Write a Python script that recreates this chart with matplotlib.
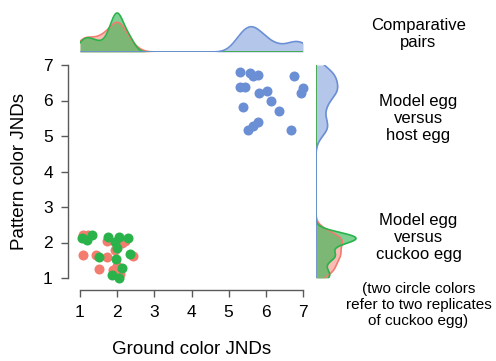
import numpy as np
import matplotlib
matplotlib.use("Agg")
import matplotlib.pyplot as plt

plt.rcParams["font.family"] = ["Liberation Sans", "DejaVu Sans"]

# Model egg vs host egg (ground JND, pattern JND)
host_ground = [5.30, 5.57, 5.65, 5.78, 6.77, 5.30, 5.44, 5.82, 6.02,
               6.99, 6.95, 6.13, 5.39, 6.35, 5.80, 5.66, 5.53, 6.68]
host_pattern = [6.81, 6.78, 6.69, 6.72, 6.69, 6.39, 6.37, 6.22, 6.27,
                6.34, 6.20, 5.99, 5.83, 5.70, 5.39, 5.28, 5.17, 5.17]

# Model egg vs cuckoo egg, replicate 1 (red)
cuckoo1_ground = [1.07, 1.43, 1.72, 2.42, 1.52, 1.90, 1.72, 2.12, 1.09,
                  1.21, 2.00, 2.05, 1.95, 2.20, 2.08]
cuckoo1_pattern = [1.65, 1.65, 1.58, 1.63, 1.25, 1.23, 2.05, 1.98, 2.21,
                   2.21, 1.34, 2.10, 1.80, 2.05, 1.10]

# Model egg vs cuckoo egg, replicate 2 (green)
cuckoo2_ground = [1.05, 1.18, 1.33, 1.76, 1.94, 2.06, 2.30, 1.99, 1.52,
                  1.96, 2.35, 2.12, 1.85, 2.06]
cuckoo2_pattern = [2.12, 2.07, 2.21, 2.15, 2.02, 2.16, 2.14, 1.84, 1.60,
                   1.54, 1.68, 1.27, 1.08, 0.99]

ticks = [1, 2, 3, 4, 5, 6, 7]

BLUE = "#6b8fd4"
RED = "#f47c6f"
GREEN = "#2ab34b"


def kde(samples, grid, bw):
    samples = np.asarray(samples)
    z = (grid[:, None] - samples[None, :]) / bw
    return np.exp(-0.5 * z**2).sum(axis=1) / (len(samples) * bw * np.sqrt(2 * np.pi))


W, H = 496, 361
fig = plt.figure(figsize=(W / 100, H / 100), dpi=100)


def box(left, top, right, bottom):
    return [left / W, 1 - bottom / H, (right - left) / W, (bottom - top) / H]


ax = fig.add_axes(box(80, 65, 303, 278))
ax_top = fig.add_axes(box(80, 8, 303, 52))
ax_right = fig.add_axes(box(316, 65, 362, 278))

# scatter
ax.scatter(host_ground, host_pattern, s=52, color=BLUE, lw=0, clip_on=False, zorder=3)
ax.scatter(cuckoo1_ground, cuckoo1_pattern, s=52, color=RED, lw=0, clip_on=False, zorder=3)
ax.scatter(cuckoo2_ground, cuckoo2_pattern, s=52, color=GREEN, lw=0, clip_on=False, zorder=4)
ax.set_xlim(1, 7)
ax.set_ylim(1, 7)
ax.set_xticks(ticks)
ax.set_yticks(ticks)
for side in ("top", "right"):
    ax.spines[side].set_visible(False)
for side in ("left", "bottom"):
    ax.spines[side].set_position(("outward", 8.6))
    ax.spines[side].set_color("#5a5a5a")
    ax.spines[side].set_linewidth(1.0)
ax.tick_params(direction="out", length=5, width=1.0, color="#5a5a5a",
               labelsize=12.5, pad=6)

fig.text(191.5 / W, 1 - 349 / H, "Ground color JNDs", ha="center", va="center", fontsize=13.5)
fig.text(20 / W, 1 - 171.5 / H, "Pattern color JNDs", ha="center", va="center",
         rotation=90, fontsize=13.5)

# marginal densities
grid = np.linspace(1, 7, 400)
groups = [
    (cuckoo1_ground, cuckoo1_pattern, RED, 0.5, 0.2),
    (cuckoo2_ground, cuckoo2_pattern, GREEN, 0.6, 0.15),
    (host_ground, host_pattern, BLUE, 0.5, 0.24),
]
dens_top = [kde(g, grid, bw) for g, _, _, _, bw in groups]
dens_right = [kde(p, grid, bw) for _, p, _, _, bw in groups]
scale = dens_top[1].max() * 44 / 39

for (g, p, c, a, bw), dt, dr in zip(groups, dens_top, dens_right):
    ax_top.fill_between(grid, 0, dt, color=c, alpha=a, lw=0)
    ax_top.plot(grid, dt, color=c, lw=1.2)
    ax_right.fill_betweenx(grid, 0, dr, color=c, alpha=a, lw=0)
    ax_right.plot(dr, grid, color=c, lw=1.2)

ax_top.set_xlim(1, 7)
ax_top.set_ylim(0, scale)
ax_right.set_ylim(1, 7)
ax_right.set_xlim(0, scale * 46 / 44)
for a in (ax_top, ax_right):
    a.axis("off")

# annotations on the right
blocks = [
    ("Comparative\npairs", 34.2, 12),
    ("Model egg\nversus\nhost egg", 118.3, 12),
    ("Model egg\nversus\ncuckoo egg", 237.3, 12),
    ("(two circle colors\nrefer to two replicates\nof cuckoo egg)", 305, 11),
]
for text, y, size in blocks:
    fig.text(418.5 / W, 1 - y / H, text, ha="center", va="center",
             fontsize=size, linespacing=1.18)

fig.savefig("out.png", dpi=100)
